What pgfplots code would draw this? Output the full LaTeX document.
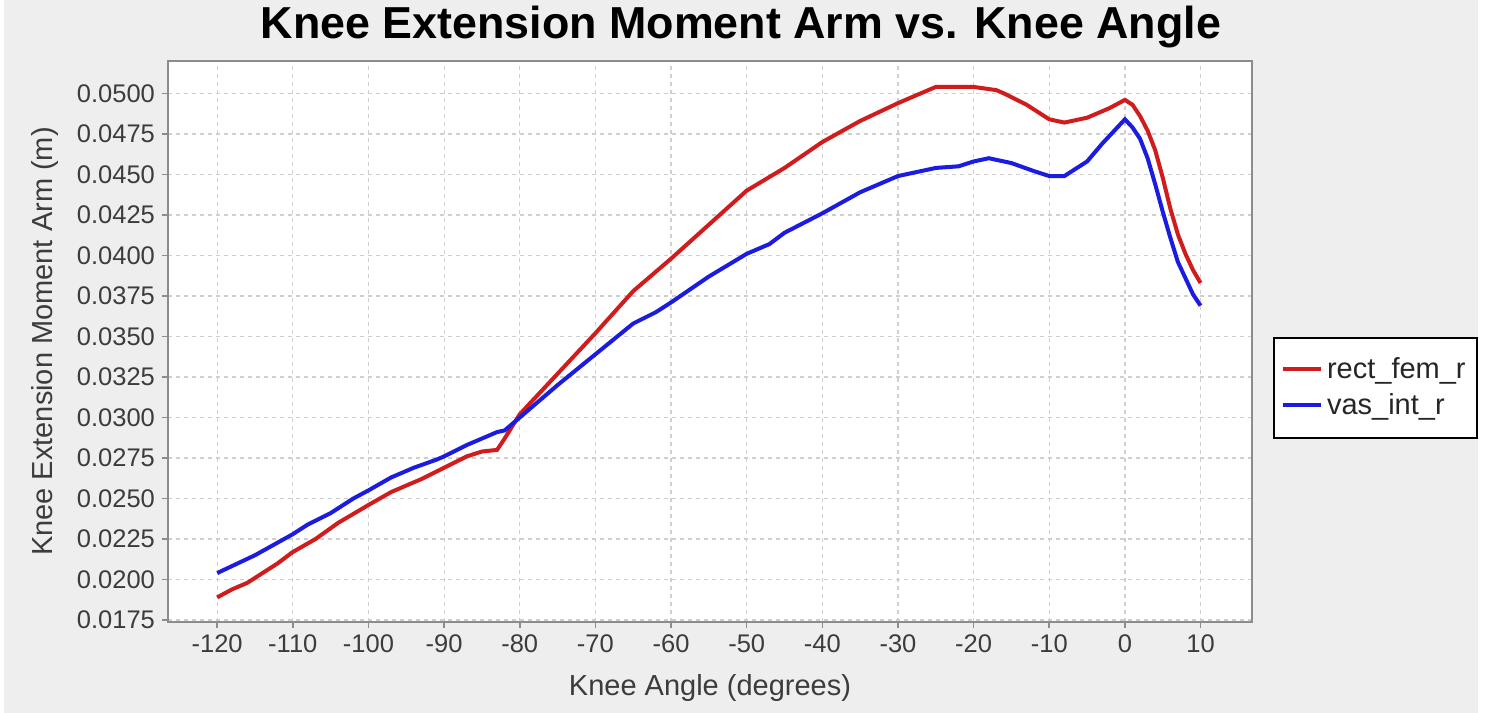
\documentclass[border=0pt]{standalone}
\usepackage{pgfplots}
\pgfplotsset{compat=1.18}
\usepackage{fontspec}
\setmainfont{Liberation Sans}
\definecolor{bgc}{HTML}{EEEEEE}
\definecolor{redc}{HTML}{D01C1C}
\definecolor{bluec}{HTML}{1C1CE0}
\definecolor{gridc}{HTML}{CFCFCF}
\definecolor{axc}{HTML}{8C8C8C}
\definecolor{txtc}{HTML}{3C3C3C}
\begin{document}
\begin{tikzpicture}
\fill[white] (0,0) rectangle (742.5pt,356.5pt);
\fill[bgc] (2pt,0) rectangle (739pt,356.5pt);
\begin{axis}[
  at={(84pt,45.5pt)}, anchor=south west,
  scale only axis, width=542pt, height=280.5pt,
  xmin=-126.5, xmax=16.8, ymin=0.01738, ymax=0.0520,
  xtick={-120,-110,...,10},
  ytick={0.0175,0.0200,0.0225,0.0250,0.0275,0.0300,0.0325,0.0350,0.0375,0.0400,0.0425,0.0450,0.0475,0.0500},
  scaled y ticks=false,
  xtick pos=bottom, ytick pos=left,
  yticklabel style={/pgf/number format/.cd, fixed, fixed zerofill, precision=4, assume math mode=true},
  xticklabel style={/pgf/number format/assume math mode=true},
  ticklabel style={font=\fontsize{12.75}{14}\selectfont, text=txtc},
  axis background/.style={fill=white},
  axis line style={axc, line width=1pt},
  tick style={axc, line width=0.8pt},
  tick align=outside, major tick length=3pt,
  grid=major, major grid style={gridc, dash pattern=on 2pt off 2pt, line width=0.6pt},
  xlabel={Knee Angle (degrees)},
  ylabel={Knee Extension Moment Arm (m)},
  label style={font=\fontsize{14.5}{16}\selectfont, text=txtc},
  xlabel style={at={(axis description cs:0.5,-0.1176)}, anchor=center},
  ylabel style={at={(axis description cs:-0.1135,0.5)}, anchor=center},
  title={Knee Extension Moment Arm vs. Knee Angle},
  title style={font=\fontsize{22.4}{25}\selectfont\bfseries, at={(axis description cs:0.5286,1.0392)}, anchor=center},
  legend style={at={(axis description cs:1.0194,0.418)}, anchor=west, draw=black, line width=1pt, font=\fontsize{14.5}{16}\selectfont, text=black!85, fill=white, inner xsep=3.5pt, inner ysep=8pt, row sep=2pt},
  legend cell align=left,
  legend image code/.code={\draw[#1, line width=2pt] (0pt,0pt) -- (19pt,0pt);},
  clip=true,
]
\addplot[redc, line width=2pt] coordinates {
(-120,0.0189) (-118,0.0194) (-116,0.0198) (-114,0.0204) (-112,0.0210) (-110,0.0217) (-107,0.0225) (-104,0.0235) (-100,0.0246) (-97,0.0254) (-93,0.0262) (-90,0.0269) (-87,0.0276) (-85,0.0279) (-83,0.0280) (-82,0.0287) (-80,0.0302) (-75,0.0327) (-70,0.0352) (-65,0.0378) (-60,0.0398) (-55,0.0419) (-50,0.0440) (-45,0.0454) (-40,0.0470) (-35,0.0483) (-30,0.0494) (-27,0.0500) (-25,0.0504) (-20,0.0504) (-17,0.0502) (-16,0.0500) (-13,0.0493) (-10,0.0484) (-8,0.0482) (-5,0.0485) (-2,0.0491) (0,0.0496) (1,0.0493) (2,0.0486) (3,0.0477) (4,0.0465) (5,0.0448) (6,0.0429) (7,0.0413) (8,0.0401) (9,0.0391) (10,0.0383)
};
\addlegendentry{rect\_fem\_r}
\addplot[bluec, line width=2pt] coordinates {
(-120,0.0204) (-115,0.0215) (-110,0.0228) (-108,0.0234) (-105,0.0241) (-102,0.0250) (-100,0.0255) (-97,0.0263) (-94,0.0269) (-91,0.0274) (-90,0.0276) (-87,0.0283) (-85,0.0287) (-83,0.0291) (-82,0.0292) (-80,0.0300) (-75,0.0320) (-70,0.0339) (-65,0.0358) (-62,0.0365) (-60,0.0371) (-55,0.0387) (-50,0.0401) (-47,0.0407) (-45,0.0414) (-40,0.0426) (-35,0.0439) (-30,0.0449) (-25,0.0454) (-22,0.0455) (-20,0.0458) (-18,0.0460) (-15,0.0457) (-12,0.0452) (-10,0.0449) (-8,0.0449) (-5,0.0458) (-3,0.0469) (-1,0.0479) (0,0.0484) (1,0.0479) (2,0.0472) (3,0.0460) (4,0.0444) (5,0.0427) (6,0.0411) (7,0.0396) (8,0.0386) (9,0.0376) (10,0.0369)
};
\addlegendentry{vas\_int\_r}
\end{axis}
\pgfresetboundingbox
\path[use as bounding box] (0,0) rectangle (742.5pt,356.5pt);
\end{tikzpicture}
\end{document}
